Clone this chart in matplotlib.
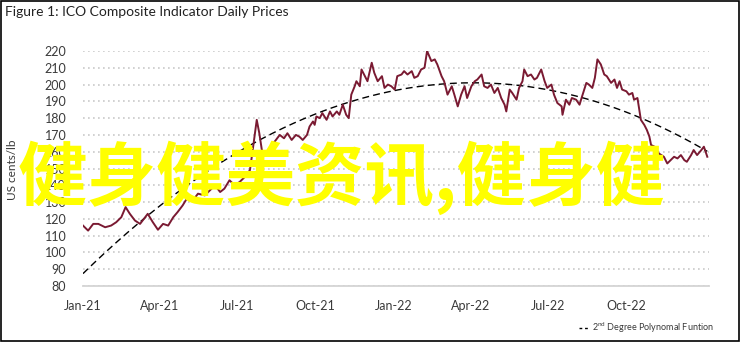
"""
    ICO composite indicator, daily prices Jan-21 .. Dec-22
    with a 2nd degree polynomial trend line.
"""

import numpy as np
import pandas as pd
import matplotlib
matplotlib.use("Agg")
import matplotlib.pyplot as plt
from matplotlib.lines import Line2D

plt.rcParams['font.family'] = ['Lato', 'DejaVu Sans']
plt.rcParams['mathtext.fontset'] = 'custom'
plt.rcParams['mathtext.rm'] = 'Lato'

# price readings (US cents/lb)
dates = [
    '2021-01-01', '2021-01-07', '2021-01-13', '2021-01-19', '2021-01-27', '2021-02-03',
    '2021-02-09', '2021-02-15', '2021-02-20', '2021-02-25', '2021-03-03', '2021-03-09',
    '2021-03-15', '2021-03-18', '2021-03-24', '2021-03-30', '2021-04-05', '2021-04-11',
    '2021-04-17', '2021-04-22', '2021-04-28', '2021-05-04', '2021-05-10', '2021-05-16',
    '2021-05-24', '2021-05-30', '2021-06-05', '2021-06-11', '2021-06-16', '2021-06-22',
    '2021-06-28', '2021-07-04', '2021-07-10', '2021-07-16', '2021-07-19', '2021-07-24',
    '2021-07-27', '2021-07-30', '2021-08-04', '2021-08-08', '2021-08-14', '2021-08-20',
    '2021-08-25', '2021-08-29', '2021-09-03', '2021-09-08', '2021-09-12', '2021-09-16',
    '2021-09-21', '2021-09-24', '2021-09-28', '2021-09-30', '2021-10-02', '2021-10-06',
    '2021-10-09', '2021-10-14', '2021-10-18', '2021-10-21', '2021-10-26', '2021-10-29',
    '2021-11-02', '2021-11-06', '2021-11-09', '2021-11-12', '2021-11-16', '2021-11-18',
    '2021-11-22', '2021-11-24', '2021-11-28', '2021-12-01', '2021-12-06', '2021-12-09',
    '2021-12-13', '2021-12-18', '2021-12-21', '2021-12-25', '2021-12-29', '2022-01-02',
    '2022-01-05', '2022-01-10', '2022-01-13', '2022-01-17', '2022-01-22', '2022-01-25',
    '2022-01-29', '2022-02-02', '2022-02-06', '2022-02-09', '2022-02-14', '2022-02-18',
    '2022-02-21', '2022-02-26', '2022-03-01', '2022-03-05', '2022-03-10', '2022-03-13',
    '2022-03-17', '2022-03-21', '2022-03-25', '2022-03-28', '2022-04-02', '2022-04-06',
    '2022-04-09', '2022-04-14', '2022-04-17', '2022-04-21', '2022-04-25', '2022-04-29',
    '2022-05-03', '2022-05-07', '2022-05-11', '2022-05-13', '2022-05-17', '2022-05-20',
    '2022-05-25', '2022-05-28', '2022-06-01', '2022-06-03', '2022-06-07', '2022-06-11',
    '2022-06-15', '2022-06-18', '2022-06-23', '2022-06-27', '2022-06-30', '2022-07-05',
    '2022-07-08', '2022-07-12', '2022-07-17', '2022-07-18', '2022-07-22', '2022-07-26',
    '2022-07-29', '2022-08-03', '2022-08-07', '2022-08-10', '2022-08-15', '2022-08-18',
    '2022-08-22', '2022-08-25', '2022-08-28', '2022-09-01', '2022-09-05', '2022-09-08',
    '2022-09-13', '2022-09-17', '2022-09-20', '2022-09-23', '2022-09-26', '2022-10-01',
    '2022-10-04', '2022-10-08', '2022-10-10', '2022-10-14', '2022-10-18', '2022-10-22',
    '2022-10-25', '2022-10-28', '2022-10-30', '2022-11-03', '2022-11-08', '2022-11-14',
    '2022-11-18', '2022-11-22', '2022-11-26', '2022-11-30', '2022-12-04', '2022-12-08',
    '2022-12-11', '2022-12-16', '2022-12-19', '2022-12-23', '2022-12-28', '2022-12-31',
    '2023-01-04',
]
prices = [
    116, 113, 117, 117, 115, 116,
    118, 121, 127, 123, 119, 117,
    121, 123, 118, 113.5, 117, 116,
    121, 124, 128, 133, 131, 135,
    134, 137, 140, 136, 138, 143,
    140, 142, 145, 149, 160, 179,
    171, 161, 158, 162, 166, 170,
    168, 171, 167, 170, 169, 167,
    170, 175, 178, 176, 181, 180,
    183, 179, 184, 181, 184, 182,
    188, 182, 180, 194, 199, 202,
    199, 209, 205, 202, 213, 207,
    202, 205, 198, 200, 199, 197,
    205, 206, 208, 206, 208, 204,
    205, 209, 210, 220, 214, 215,
    212, 205, 202, 194, 199, 194,
    187, 194, 199, 192, 199, 202,
    203, 206, 199, 198, 200, 195,
    198, 192, 188, 184, 197, 195,
    191, 198, 202, 209, 205, 206,
    203, 204, 209, 202, 198, 200,
    194, 189, 187, 182, 191, 188,
    192, 191, 188, 193, 201, 200,
    198, 204, 215, 212, 206, 205,
    201, 203, 198, 202, 197, 196,
    194, 195, 191, 192, 179, 176,
    173, 169, 164, 163, 159, 157,
    153, 155, 157, 156, 158, 155,
    154, 158, 161, 158, 161, 163,
    157,
]

tick_dates = ['2021-01-01', '2021-04-01', '2021-07-01', '2021-10-01',
              '2022-01-01', '2022-04-01', '2022-07-01', '2022-10-01']
tick_labels = ['Jan-21', 'Apr-21', 'Jul-21', 'Oct-21',
               'Jan-22', 'Apr-22', 'Jul-22', 'Oct-22']
y_ticks = list(range(80, 230, 10))

title = 'Figure 1: ICO Composite Indicator Daily Prices'
y_label = 'US cents/lb'
trend_label = r'2$^{\mathrm{nd}}$ Degree Polynomal Funtion'
watermark = '健身健美资讯,健身健'

LINE_COLOR = '#7a1a32'
TEXT_COLOR = '#3a3a3a'
GRID_COLOR = '#c9c9c9'


def main() -> None:
    df = pd.DataFrame({'date': pd.to_datetime(dates), 'price': prices})

    # 2nd degree polynomial trend fitted on the daily readings
    days = (df['date'] - df['date'].iloc[0]).dt.days.to_numpy()
    coef = np.polyfit(days, df['price'].to_numpy(), 2)
    d_fit = np.arange(days[0], days[-1] + 1)
    t_fit = df['date'].iloc[0] + pd.to_timedelta(d_fit, unit='D')
    v_fit = np.polyval(coef, d_fit)

    fig = plt.figure(figsize=(7.4, 3.42), dpi=100)
    ax = fig.add_axes([83 / 740, 1 - 286 / 342, (709 - 83) / 740, (286 - 51) / 342])

    ax.plot(t_fit, v_fit, color='black', lw=1.0, dashes=(5, 3), zorder=2)
    ax.plot(df['date'], df['price'], color=LINE_COLOR, lw=1.4, zorder=3)

    ax.set_ylim(80, 220)
    ax.set_yticks(y_ticks)
    ax.set_xlim(pd.Timestamp('2021-01-01'), pd.Timestamp('2023-01-06'))
    ax.set_xticks(pd.to_datetime(tick_dates))
    ax.set_xticklabels(tick_labels)

    ax.grid(axis='y', color=GRID_COLOR, linestyle=(0, (1, 2)), lw=1.2)
    ax.set_axisbelow(True)
    for side in ['top', 'right', 'left']:
        ax.spines[side].set_visible(False)
    ax.spines['bottom'].set_color('#d4d4d4')
    ax.spines['bottom'].set_linewidth(1.3)
    ax.tick_params(axis='both', length=0, labelsize=9, labelcolor=TEXT_COLOR)
    ax.tick_params(axis='y', pad=12)
    ax.tick_params(axis='x', pad=10)

    fig.text(13 / 740, 1 - 170 / 342, y_label, rotation=90, ha='center', va='center',
             fontsize=8.5, color=TEXT_COLOR)
    fig.text(5 / 740, 1 - 12 / 342, title, ha='left', va='center', fontsize=10, color='#222222')

    handle = Line2D([], [], color='black', lw=1.0, dashes=(2, 2))
    fig.legend([handle], [trend_label], loc='center right',
               bbox_to_anchor=(722 / 740, 1 - 328 / 342), frameon=False,
               fontsize=6.5, handlelength=1.0, handletextpad=0.4, labelcolor=TEXT_COLOR)

    fig.text(18 / 740, 1 - 178 / 342, watermark, ha='left', va='center', fontsize=50,
             fontweight='bold', color='#ffff00', family=['Noto Sans CJK SC', 'DejaVu Sans'],
             zorder=10)

    # outer frame
    fig.patches.append(plt.Rectangle((0.001, 0.002), 0.997, 0.996, transform=fig.transFigure,
                                     fill=False, edgecolor='black', lw=1.2))

    fig.savefig('out.png', dpi=100)


if __name__ == "__main__":
    main()
